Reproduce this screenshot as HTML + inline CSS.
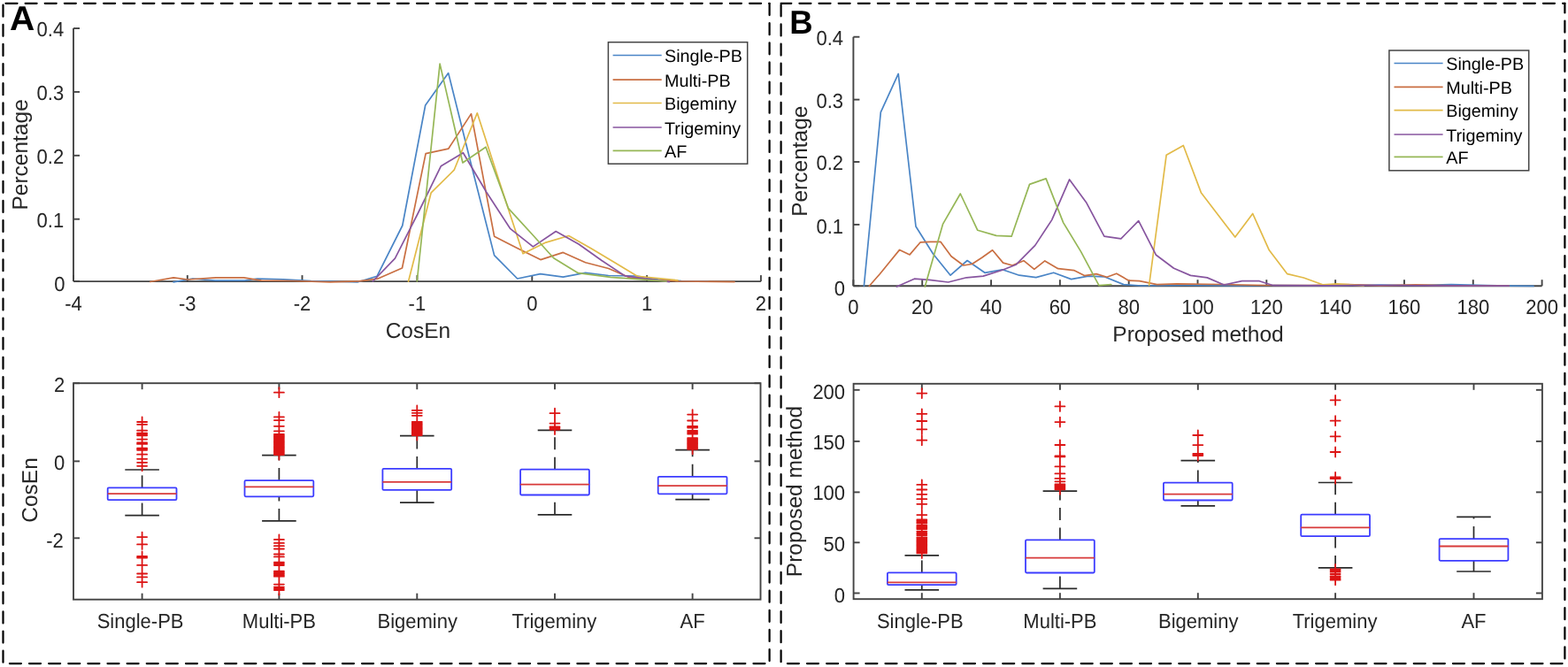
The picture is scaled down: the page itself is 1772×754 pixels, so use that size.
<!DOCTYPE html>
<html><head><meta charset="utf-8"><title>Figure</title>
<style>
html,body{margin:0;padding:0;background:#fff;}
svg{display:block;font-family:"Liberation Sans", Arial, Helvetica, sans-serif;text-rendering:geometricPrecision;}
</style></head>
<body>
<svg width="1772" height="754" viewBox="0 0 1772 754">
<rect width="1772" height="754" fill="#fff"/>
<line x1="3.5" y1="3.8" x2="869.6" y2="3.8" stroke="#000" stroke-width="2.2" stroke-dasharray="13.0 9.12" stroke-dashoffset="19.12" stroke-linecap="round"/>
<line x1="869.6" y1="3.8" x2="869.6" y2="750.1" stroke="#000" stroke-width="2.2" stroke-dasharray="13.0 9.12" stroke-dashoffset="21.82" stroke-linecap="round"/>
<line x1="3.5" y1="750.1" x2="869.6" y2="750.1" stroke="#000" stroke-width="2.2" stroke-dasharray="13.0 9.12" stroke-dashoffset="14.72" stroke-linecap="round"/>
<line x1="3.5" y1="3.8" x2="3.5" y2="750.1" stroke="#000" stroke-width="2.2" stroke-dasharray="13.0 9.12" stroke-dashoffset="20.22" stroke-linecap="round"/>
<line x1="882.6" y1="3.8" x2="1768.4" y2="3.8" stroke="#000" stroke-width="2.2" stroke-dasharray="13.0 9.12" stroke-dashoffset="1.30" stroke-linecap="round"/>
<line x1="1768.4" y1="3.8" x2="1768.4" y2="750.1" stroke="#000" stroke-width="2.2" stroke-dasharray="13.0 9.12" stroke-dashoffset="2.32" stroke-linecap="round"/>
<line x1="882.6" y1="750.1" x2="1768.4" y2="750.1" stroke="#000" stroke-width="2.2" stroke-dasharray="13.0 9.12" stroke-dashoffset="14.82" stroke-linecap="round"/>
<line x1="882.6" y1="3.8" x2="882.6" y2="750.1" stroke="#000" stroke-width="2.2" stroke-dasharray="13.0 9.12" stroke-dashoffset="20.62" stroke-linecap="round"/>
<text transform="translate(11.1,33.8) scale(1.04,1.03)" font-size="37.6" font-weight="bold" fill="#000">A</text>
<text transform="translate(892.3,37.5) scale(1.0,1.03)" font-size="36.5" font-weight="bold" fill="#000">B</text>
<line x1="83.00" y1="32.05" x2="83.00" y2="318.10" stroke="#444444" stroke-width="1.9" />
<line x1="83.00" y1="318.10" x2="859.90" y2="318.10" stroke="#444444" stroke-width="1.9" />
<line x1="83.00" y1="32.05" x2="90.00" y2="32.05" stroke="#444444" stroke-width="1.9" />
<text transform="translate(72.20,41.35) scale(1,1.055)" font-size="22.0" text-anchor="end" fill="#262626" >0.4</text>
<line x1="83.00" y1="103.90" x2="90.00" y2="103.90" stroke="#444444" stroke-width="1.9" />
<text transform="translate(72.20,113.00) scale(1,1.055)" font-size="22.0" text-anchor="end" fill="#262626" >0.3</text>
<line x1="83.00" y1="175.80" x2="90.00" y2="175.80" stroke="#444444" stroke-width="1.9" />
<text transform="translate(72.20,184.85) scale(1,1.055)" font-size="22.0" text-anchor="end" fill="#262626" >0.2</text>
<line x1="83.00" y1="247.70" x2="90.00" y2="247.70" stroke="#444444" stroke-width="1.9" />
<text transform="translate(72.20,256.95) scale(1,1.055)" font-size="22.0" text-anchor="end" fill="#262626" >0.1</text>
<line x1="83.00" y1="318.10" x2="90.00" y2="318.10" stroke="#444444" stroke-width="1.9" />
<text transform="translate(73.40,328.65) scale(1,1.055)" font-size="22.0" text-anchor="end" fill="#262626" >0</text>
<line x1="83.00" y1="318.10" x2="83.00" y2="311.10" stroke="#444444" stroke-width="1.9" />
<text transform="translate(83.00,350.80) scale(1,1.055)" font-size="22.0" text-anchor="middle" fill="#262626" >-4</text>
<line x1="211.80" y1="318.10" x2="211.80" y2="311.10" stroke="#444444" stroke-width="1.9" />
<text transform="translate(211.80,350.80) scale(1,1.055)" font-size="22.0" text-anchor="middle" fill="#262626" >-3</text>
<line x1="341.50" y1="318.10" x2="341.50" y2="311.10" stroke="#444444" stroke-width="1.9" />
<text transform="translate(341.50,350.80) scale(1,1.055)" font-size="22.0" text-anchor="middle" fill="#262626" >-2</text>
<line x1="471.40" y1="318.10" x2="471.40" y2="311.10" stroke="#444444" stroke-width="1.9" />
<text transform="translate(471.40,350.80) scale(1,1.055)" font-size="22.0" text-anchor="middle" fill="#262626" >-1</text>
<line x1="601.30" y1="318.10" x2="601.30" y2="311.10" stroke="#444444" stroke-width="1.9" />
<text transform="translate(601.30,350.80) scale(1,1.055)" font-size="22.0" text-anchor="middle" fill="#262626" >0</text>
<line x1="731.10" y1="318.10" x2="731.10" y2="311.10" stroke="#444444" stroke-width="1.9" />
<text transform="translate(731.10,350.80) scale(1,1.055)" font-size="22.0" text-anchor="middle" fill="#262626" >1</text>
<line x1="859.90" y1="318.10" x2="859.90" y2="311.10" stroke="#444444" stroke-width="1.9" />
<text transform="translate(859.90,350.80) scale(1,1.055)" font-size="22.0" text-anchor="middle" fill="#262626" >2</text>
<text x="472.45" y="381.90" font-size="24.5" text-anchor="middle" fill="#262626" >CosEn</text>
<text transform="translate(30.8,174.9) rotate(-90)" font-size="24.5" text-anchor="middle" fill="#262626">Percentage</text>
<line x1="964.40" y1="41.70" x2="964.40" y2="323.20" stroke="#444444" stroke-width="1.9" />
<line x1="964.40" y1="323.20" x2="1742.60" y2="323.20" stroke="#444444" stroke-width="1.9" />
<line x1="964.40" y1="41.70" x2="971.40" y2="41.70" stroke="#444444" stroke-width="1.9" />
<text transform="translate(953.10,51.45) scale(1,1.055)" font-size="22.0" text-anchor="end" fill="#262626" >0.4</text>
<line x1="964.40" y1="112.60" x2="971.40" y2="112.60" stroke="#444444" stroke-width="1.9" />
<text transform="translate(953.10,122.10) scale(1,1.055)" font-size="22.0" text-anchor="end" fill="#262626" >0.3</text>
<line x1="964.40" y1="183.00" x2="971.40" y2="183.00" stroke="#444444" stroke-width="1.9" />
<text transform="translate(953.10,192.45) scale(1,1.055)" font-size="22.0" text-anchor="end" fill="#262626" >0.2</text>
<line x1="964.40" y1="253.90" x2="971.40" y2="253.90" stroke="#444444" stroke-width="1.9" />
<text transform="translate(953.10,263.75) scale(1,1.055)" font-size="22.0" text-anchor="end" fill="#262626" >0.1</text>
<line x1="964.40" y1="323.20" x2="971.40" y2="323.20" stroke="#444444" stroke-width="1.9" />
<text transform="translate(955.10,334.05) scale(1,1.055)" font-size="22.0" text-anchor="end" fill="#262626" >0</text>
<line x1="964.40" y1="323.20" x2="964.40" y2="316.20" stroke="#444444" stroke-width="1.9" />
<text transform="translate(964.40,355.35) scale(1,1.055)" font-size="22.0" text-anchor="middle" fill="#262626" >0</text>
<line x1="1042.22" y1="323.20" x2="1042.22" y2="316.20" stroke="#444444" stroke-width="1.9" />
<text transform="translate(1042.22,355.35) scale(1,1.055)" font-size="22.0" text-anchor="middle" fill="#262626" >20</text>
<line x1="1120.04" y1="323.20" x2="1120.04" y2="316.20" stroke="#444444" stroke-width="1.9" />
<text transform="translate(1120.04,355.35) scale(1,1.055)" font-size="22.0" text-anchor="middle" fill="#262626" >40</text>
<line x1="1197.86" y1="323.20" x2="1197.86" y2="316.20" stroke="#444444" stroke-width="1.9" />
<text transform="translate(1197.86,355.35) scale(1,1.055)" font-size="22.0" text-anchor="middle" fill="#262626" >60</text>
<line x1="1275.68" y1="323.20" x2="1275.68" y2="316.20" stroke="#444444" stroke-width="1.9" />
<text transform="translate(1275.68,355.35) scale(1,1.055)" font-size="22.0" text-anchor="middle" fill="#262626" >80</text>
<line x1="1353.50" y1="323.20" x2="1353.50" y2="316.20" stroke="#444444" stroke-width="1.9" />
<text transform="translate(1353.50,355.35) scale(1,1.055)" font-size="22.0" text-anchor="middle" fill="#262626" >100</text>
<line x1="1431.32" y1="323.20" x2="1431.32" y2="316.20" stroke="#444444" stroke-width="1.9" />
<text transform="translate(1431.32,355.35) scale(1,1.055)" font-size="22.0" text-anchor="middle" fill="#262626" >120</text>
<line x1="1509.14" y1="323.20" x2="1509.14" y2="316.20" stroke="#444444" stroke-width="1.9" />
<text transform="translate(1509.14,355.35) scale(1,1.055)" font-size="22.0" text-anchor="middle" fill="#262626" >140</text>
<line x1="1586.96" y1="323.20" x2="1586.96" y2="316.20" stroke="#444444" stroke-width="1.9" />
<text transform="translate(1586.96,355.35) scale(1,1.055)" font-size="22.0" text-anchor="middle" fill="#262626" >160</text>
<line x1="1664.78" y1="323.20" x2="1664.78" y2="316.20" stroke="#444444" stroke-width="1.9" />
<text transform="translate(1664.78,355.35) scale(1,1.055)" font-size="22.0" text-anchor="middle" fill="#262626" >180</text>
<line x1="1742.60" y1="323.20" x2="1742.60" y2="316.20" stroke="#444444" stroke-width="1.9" />
<text transform="translate(1742.60,355.35) scale(1,1.055)" font-size="22.0" text-anchor="middle" fill="#262626" >200</text>
<text x="1354.00" y="386.40" font-size="24.5" text-anchor="middle" fill="#262626" >Proposed method</text>
<text transform="translate(912.4,182.2) rotate(-90)" font-size="24.5" text-anchor="middle" fill="#262626">Percentage</text>
<polyline points="196.1,318.9 217.8,315.0 243.1,317.1 276.5,317.1 290.9,315.0 320.0,315.8 351.5,317.5 403.9,319.0 426.0,312.3 454.8,255.0 480.7,119.0 506.7,82.6 532.5,186.0 558.6,288.6 584.7,315.0 610.6,309.6 636.4,313.1 661.6,308.4 687.7,311.5 719.8,312.0 744.0,316.0 770.0,317.5 800.0,318.0" fill="none" stroke="#4A85C6" stroke-width="1.7" stroke-linejoin="round" stroke-linecap="round"/>
<polyline points="169.9,318.5 196.1,313.8 212.4,316.0 244.0,313.8 275.6,313.8 295.4,317.1 331.6,317.5 373.2,318.8 405.7,317.9 426.5,315.2 454.5,303.0 481.1,173.6 506.7,168.2 532.5,128.6 558.6,267.2 584.5,280.5 610.9,293.6 636.4,285.4 661.6,296.8 687.7,303.5 712.6,314.2 740.0,316.5 766.7,317.8 830.0,318.6" fill="none" stroke="#C96F42" stroke-width="1.7" stroke-linejoin="round" stroke-linecap="round"/>
<polyline points="461.5,318.2 487.2,217.8 513.2,192.2 539.3,127.8 564.9,207.0 591.0,286.7 616.9,274.1 642.7,266.5 668.3,281.0 694.2,296.5 720.7,312.4 765.8,316.9" fill="none" stroke="#E2BA48" stroke-width="1.7" stroke-linejoin="round" stroke-linecap="round"/>
<polyline points="421.3,318.0 446.4,292.1 472.4,241.0 498.4,187.7 523.4,172.7 549.6,217.0 576.5,258.3 602.4,278.9 628.2,261.5 654.0,276.0 680.0,294.5 706.3,311.9 756.4,318.7" fill="none" stroke="#87559F" stroke-width="1.7" stroke-linejoin="round" stroke-linecap="round"/>
<polyline points="471.3,318.0 497.1,72.1 522.9,184.0 549.0,166.2 574.6,235.7 600.6,264.0 625.7,291.7 653.4,308.7 690.0,313.3 753.2,318.0" fill="none" stroke="#96B757" stroke-width="1.7" stroke-linejoin="round" stroke-linecap="round"/>
<polyline points="976.4,323.3 995.3,126.9 1015.2,83.4 1035.0,256.0 1054.5,287.0 1074.1,311.2 1093.1,294.5 1112.9,308.3 1132.8,304.8 1151.9,311.2 1170.8,313.6 1190.7,308.2 1210.6,315.6 1230.0,312.2 1247.9,312.8 1269.8,321.6 1289.6,323.0 1340.0,322.5 1400.0,323.0 1440.0,322.5 1500.0,322.8 1560.0,322.0 1600.0,322.5 1640.0,321.5 1680.0,322.5 1705.0,323.2 1733.0,323.4" fill="none" stroke="#4A85C6" stroke-width="1.7" stroke-linejoin="round" stroke-linecap="round"/>
<polyline points="982.4,323.3 994.5,309.5 1005.5,296.0 1016.6,282.4 1028.1,287.9 1040.2,273.8 1051.5,273.3 1062.9,273.3 1075.0,289.7 1088.8,300.0 1098.5,298.5 1110.0,291.0 1121.6,282.8 1133.6,297.1 1144.0,300.0 1156.9,294.7 1168.8,304.3 1180.8,294.9 1195.7,303.7 1213.6,305.6 1225.5,311.6 1238.9,309.6 1250.9,313.2 1261.8,309.2 1275.7,317.2 1287.7,317.6 1307.5,321.6 1330.0,320.8 1380.0,321.5 1430.0,322.5 1480.0,322.5 1520.0,321.5 1560.0,322.8 1600.0,321.8 1640.0,322.8 1705.0,323.2" fill="none" stroke="#C96F42" stroke-width="1.7" stroke-linejoin="round" stroke-linecap="round"/>
<polyline points="1298.6,322.5 1318.1,175.3 1337.3,164.5 1357.5,218.1 1376.6,243.0 1395.8,268.1 1415.7,241.5 1434.3,282.8 1454.8,309.7 1473.3,314.0 1494.7,321.8 1511.4,320.9 1541.1,323.0" fill="none" stroke="#E2BA48" stroke-width="1.7" stroke-linejoin="round" stroke-linecap="round"/>
<polyline points="1013.4,324.0 1033.3,315.2 1050.0,316.4 1071.6,319.0 1092.2,313.8 1111.2,312.1 1132.8,305.2 1148.0,299.3 1169.8,277.4 1188.7,248.6 1208.6,202.9 1227.5,228.7 1247.9,267.1 1266.8,269.9 1286.7,249.6 1306.5,288.3 1326.5,303.3 1345.4,311.4 1364.3,313.9 1383.2,322.0 1403.7,317.7 1423.2,317.7 1439.0,322.7 1500.0,322.8 1560.0,322.5 1620.0,322.8 1705.0,323.2" fill="none" stroke="#87559F" stroke-width="1.7" stroke-linejoin="round" stroke-linecap="round"/>
<polyline points="1045.3,324.0 1065.5,253.4 1085.3,219.0 1104.8,260.3 1125.9,266.4 1143.1,267.2 1163.5,208.4 1182.1,201.9 1201.6,251.6 1221.5,284.4 1241.9,322.7 1255.8,321.5" fill="none" stroke="#96B757" stroke-width="1.7" stroke-linejoin="round" stroke-linecap="round"/>
<rect x="687.4" y="47.7" width="157.30000000000007" height="137.5" fill="#fff" stroke="#444444" stroke-width="1.5"/>
<line x1="692.60" y1="62.50" x2="747.70" y2="62.50" stroke="#4A85C6" stroke-width="1.7" />
<text x="751.00" y="70.10" font-size="19.8" text-anchor="start" fill="#000" >Single-PB</text>
<line x1="692.60" y1="90.20" x2="747.70" y2="90.20" stroke="#C96F42" stroke-width="1.7" />
<text x="751.00" y="97.80" font-size="19.8" text-anchor="start" fill="#000" >Multi-PB</text>
<line x1="692.60" y1="116.50" x2="747.70" y2="116.50" stroke="#E2BA48" stroke-width="1.7" />
<text x="751.00" y="124.10" font-size="19.8" text-anchor="start" fill="#000" >Bigeminy</text>
<line x1="692.60" y1="144.00" x2="747.70" y2="144.00" stroke="#87559F" stroke-width="1.7" />
<text x="751.00" y="151.60" font-size="19.8" text-anchor="start" fill="#000" >Trigeminy</text>
<line x1="692.60" y1="170.40" x2="747.70" y2="170.40" stroke="#96B757" stroke-width="1.7" />
<text x="751.00" y="178.00" font-size="19.8" text-anchor="start" fill="#000" >AF</text>
<rect x="1569.9" y="57.0" width="157.79999999999995" height="135.8" fill="#fff" stroke="#444444" stroke-width="1.5"/>
<line x1="1575.50" y1="71.50" x2="1630.60" y2="71.50" stroke="#4A85C6" stroke-width="1.7" />
<text x="1634.20" y="79.10" font-size="19.8" text-anchor="start" fill="#000" >Single-PB</text>
<line x1="1575.50" y1="98.30" x2="1630.60" y2="98.30" stroke="#C96F42" stroke-width="1.7" />
<text x="1634.20" y="105.90" font-size="19.8" text-anchor="start" fill="#000" >Multi-PB</text>
<line x1="1575.50" y1="124.60" x2="1630.60" y2="124.60" stroke="#E2BA48" stroke-width="1.7" />
<text x="1634.20" y="132.20" font-size="19.8" text-anchor="start" fill="#000" >Bigeminy</text>
<line x1="1575.50" y1="152.00" x2="1630.60" y2="152.00" stroke="#87559F" stroke-width="1.7" />
<text x="1634.20" y="159.60" font-size="19.8" text-anchor="start" fill="#000" >Trigeminy</text>
<line x1="1575.50" y1="177.30" x2="1630.60" y2="177.30" stroke="#96B757" stroke-width="1.7" />
<text x="1634.20" y="184.90" font-size="19.8" text-anchor="start" fill="#000" >AF</text>
<rect x="83.0" y="433.2" width="776.5" height="244.50000000000006" fill="none" stroke="#444444" stroke-width="1.9"/>
<line x1="83.00" y1="433.20" x2="90.00" y2="433.20" stroke="#444444" stroke-width="1.9" />
<line x1="859.50" y1="433.20" x2="852.50" y2="433.20" stroke="#444444" stroke-width="1.9" />
<text transform="translate(73.20,443.25) scale(1,1.055)" font-size="22.0" text-anchor="end" fill="#262626" >2</text>
<line x1="83.00" y1="521.40" x2="90.00" y2="521.40" stroke="#444444" stroke-width="1.9" />
<line x1="859.50" y1="521.40" x2="852.50" y2="521.40" stroke="#444444" stroke-width="1.9" />
<text transform="translate(73.20,530.55) scale(1,1.055)" font-size="22.0" text-anchor="end" fill="#262626" >0</text>
<line x1="83.00" y1="608.30" x2="90.00" y2="608.30" stroke="#444444" stroke-width="1.9" />
<line x1="859.50" y1="608.30" x2="852.50" y2="608.30" stroke="#444444" stroke-width="1.9" />
<text transform="translate(71.80,618.75) scale(1,1.055)" font-size="22.0" text-anchor="end" fill="#262626" >-2</text>
<line x1="160.60" y1="677.70" x2="160.60" y2="670.70" stroke="#444444" stroke-width="1.9" />
<line x1="160.60" y1="433.20" x2="160.60" y2="440.20" stroke="#444444" stroke-width="1.9" />
<text transform="translate(158.60,710.10) scale(1,1.055)" font-size="22.0" text-anchor="middle" fill="#262626" >Single-PB</text>
<line x1="315.40" y1="677.70" x2="315.40" y2="670.70" stroke="#444444" stroke-width="1.9" />
<line x1="315.40" y1="433.20" x2="315.40" y2="440.20" stroke="#444444" stroke-width="1.9" />
<text transform="translate(315.40,710.10) scale(1,1.055)" font-size="22.0" text-anchor="middle" fill="#262626" >Multi-PB</text>
<line x1="471.30" y1="677.70" x2="471.30" y2="670.70" stroke="#444444" stroke-width="1.9" />
<line x1="471.30" y1="433.20" x2="471.30" y2="440.20" stroke="#444444" stroke-width="1.9" />
<text transform="translate(471.70,710.10) scale(1,1.055)" font-size="22.0" text-anchor="middle" fill="#262626" >Bigeminy</text>
<line x1="627.00" y1="677.70" x2="627.00" y2="670.70" stroke="#444444" stroke-width="1.9" />
<line x1="627.00" y1="433.20" x2="627.00" y2="440.20" stroke="#444444" stroke-width="1.9" />
<text transform="translate(626.40,710.10) scale(1,1.055)" font-size="22.0" text-anchor="middle" fill="#262626" >Trigeminy</text>
<line x1="782.60" y1="677.70" x2="782.60" y2="670.70" stroke="#444444" stroke-width="1.9" />
<line x1="782.60" y1="433.20" x2="782.60" y2="440.20" stroke="#444444" stroke-width="1.9" />
<text transform="translate(782.60,710.10) scale(1,1.055)" font-size="22.0" text-anchor="middle" fill="#262626" >AF</text>
<text transform="translate(42.3,554.0) rotate(-90)" font-size="24.5" text-anchor="middle" fill="#262626">CosEn</text>
<line x1="160.6" y1="551.4" x2="160.6" y2="531.0" stroke="#2a2a2a" stroke-width="1.7" stroke-dasharray="14 8.5"/>
<line x1="160.6" y1="582.6" x2="160.6" y2="565.2" stroke="#2a2a2a" stroke-width="1.7" stroke-dasharray="14 8.5"/>
<line x1="141.30" y1="531.00" x2="179.90" y2="531.00" stroke="#2a2a2a" stroke-width="1.7" />
<line x1="141.30" y1="582.60" x2="179.90" y2="582.60" stroke="#2a2a2a" stroke-width="1.7" />
<rect x="121.69999999999999" y="551.4" width="77.8" height="13.800000000000068" rx="1.2" fill="none" stroke="#3c3cff" stroke-width="1.8"/>
<line x1="121.70" y1="558.20" x2="199.50" y2="558.20" stroke="#d83a3a" stroke-width="1.8" />
<path d="M155.1,477.0H166.1M160.6,471.5V482.5M155.1,479.8H166.1M160.6,474.3V485.3M155.1,486.7H166.1M160.6,481.2V492.2M155.1,489.7H166.1M160.6,484.2V495.2M155.1,491.0H166.1M160.6,485.5V496.5M155.1,492.3H166.1M160.6,486.8V497.8M155.1,496.6H166.1M160.6,491.1V502.1M155.1,500.3H166.1M160.6,494.8V505.8M155.1,501.1H166.1M160.6,495.6V506.6M155.1,501.9H166.1M160.6,496.4V507.4M155.1,506.6H166.1M160.6,501.1V512.1M155.1,507.7H166.1M160.6,502.2V513.2M155.1,508.8H166.1M160.6,503.3V514.3M155.1,513.7H166.1M160.6,508.2V519.2M155.1,518.8H166.1M160.6,513.3V524.3M155.1,522.8H166.1M160.6,517.3V528.3M155.1,526.8H166.1M160.6,521.3V532.3M155.1,607.1H166.1M160.6,601.6V612.6M155.1,615.4H166.1M160.6,609.9V620.9M155.1,629.0H166.1M160.6,623.5V634.5M155.1,630.5H166.1M160.6,625.0V636.0M155.1,638.9H166.1M160.6,633.4V644.4M155.1,648.5H166.1M160.6,643.0V654.0M155.1,652.4H166.1M160.6,646.9V657.9M155.1,658.2H166.1M160.6,652.7V663.7" stroke="#dc1414" stroke-width="1.8" stroke-linecap="round" fill="none"/>
<line x1="315.4" y1="543.1" x2="315.4" y2="514.6" stroke="#2a2a2a" stroke-width="1.7" stroke-dasharray="14 8.5"/>
<line x1="315.4" y1="588.9" x2="315.4" y2="561.3" stroke="#2a2a2a" stroke-width="1.7" stroke-dasharray="14 8.5"/>
<line x1="296.10" y1="514.60" x2="334.70" y2="514.60" stroke="#2a2a2a" stroke-width="1.7" />
<line x1="296.10" y1="588.90" x2="334.70" y2="588.90" stroke="#2a2a2a" stroke-width="1.7" />
<rect x="276.5" y="543.1" width="77.8" height="18.199999999999932" rx="1.2" fill="none" stroke="#3c3cff" stroke-width="1.8"/>
<line x1="276.50" y1="550.40" x2="354.30" y2="550.40" stroke="#d83a3a" stroke-width="1.8" />
<path d="M309.9,443.7H320.9M315.4,438.2V449.2M309.9,471.4H320.9M315.4,465.9V476.9M309.9,475.1H320.9M315.4,469.6V480.6M309.9,481.8H320.9M315.4,476.3V487.3M309.9,487.3H320.9M315.4,481.8V492.8M309.9,491.0H320.9M315.4,485.5V496.5M309.9,492.2H320.9M315.4,486.7V497.7M309.9,493.4H320.9M315.4,487.9V498.9M309.9,494.6H320.9M315.4,489.1V500.1M309.9,495.8H320.9M315.4,490.3V501.3M309.9,497.1H320.9M315.4,491.6V502.6M309.9,498.3H320.9M315.4,492.8V503.8M309.9,499.5H320.9M315.4,494.0V505.0M309.9,500.7H320.9M315.4,495.2V506.2M309.9,501.9H320.9M315.4,496.4V507.4M309.9,503.1H320.9M315.4,497.6V508.6M309.9,504.3H320.9M315.4,498.8V509.8M309.9,505.5H320.9M315.4,500.0V511.0M309.9,506.7H320.9M315.4,501.2V512.2M309.9,507.9H320.9M315.4,502.4V513.4M309.9,509.2H320.9M315.4,503.7V514.7M309.9,510.4H320.9M315.4,504.9V515.9M309.9,511.6H320.9M315.4,506.1V517.1M309.9,512.8H320.9M315.4,507.3V518.3M309.9,514.0H320.9M315.4,508.5V519.5M309.9,609.9H320.9M315.4,604.4V615.4M309.9,613.9H320.9M315.4,608.4V619.4M309.9,617.2H320.9M315.4,611.7V622.7M309.9,620.5H320.9M315.4,615.0V626.0M309.9,626.5H320.9M315.4,621.0V632.0M309.9,629.4H320.9M315.4,623.9V634.9M309.9,635.7H320.9M315.4,630.2V641.2M309.9,637.3H320.9M315.4,631.8V642.8M309.9,639.0H320.9M315.4,633.5V644.5M309.9,645.7H320.9M315.4,640.2V651.2M309.9,647.2H320.9M315.4,641.7V652.7M309.9,648.7H320.9M315.4,643.2V654.2M309.9,650.2H320.9M315.4,644.7V655.7M309.9,651.7H320.9M315.4,646.2V657.2M309.9,660.6H320.9M315.4,655.1V666.1M309.9,663.6H320.9M315.4,658.1V669.1M309.9,665.3H320.9M315.4,659.8V670.8M309.9,667.0H320.9M315.4,661.5V672.5" stroke="#dc1414" stroke-width="1.8" stroke-linecap="round" fill="none"/>
<line x1="471.3" y1="529.9" x2="471.3" y2="492.7" stroke="#2a2a2a" stroke-width="1.7" stroke-dasharray="14 8.5"/>
<line x1="471.3" y1="568.2" x2="471.3" y2="553.9" stroke="#2a2a2a" stroke-width="1.7" stroke-dasharray="14 8.5"/>
<line x1="452.00" y1="492.70" x2="490.60" y2="492.70" stroke="#2a2a2a" stroke-width="1.7" />
<line x1="452.00" y1="568.20" x2="490.60" y2="568.20" stroke="#2a2a2a" stroke-width="1.7" />
<rect x="432.40000000000003" y="529.9" width="77.8" height="24.0" rx="1.2" fill="none" stroke="#3c3cff" stroke-width="1.8"/>
<line x1="432.40" y1="544.80" x2="510.20" y2="544.80" stroke="#d83a3a" stroke-width="1.8" />
<path d="M465.8,463.9H476.8M471.3,458.4V469.4M465.8,466.8H476.8M471.3,461.3V472.3M465.8,469.8H476.8M471.3,464.3V475.3M465.8,476.8H476.8M471.3,471.3V482.3M465.8,478.1H476.8M471.3,472.6V483.6M465.8,479.4H476.8M471.3,473.9V484.9M465.8,480.6H476.8M471.3,475.1V486.1M465.8,481.9H476.8M471.3,476.4V487.4M465.8,483.2H476.8M471.3,477.7V488.7M465.8,484.5H476.8M471.3,479.0V490.0M465.8,485.7H476.8M471.3,480.2V491.2M465.8,487.0H476.8M471.3,481.5V492.5M465.8,488.3H476.8M471.3,482.8V493.8M465.8,489.6H476.8M471.3,484.1V495.1M465.8,490.8H476.8M471.3,485.3V496.3M465.8,492.1H476.8M471.3,486.6V497.6" stroke="#dc1414" stroke-width="1.8" stroke-linecap="round" fill="none"/>
<line x1="627.0" y1="530.7" x2="627.0" y2="486.3" stroke="#2a2a2a" stroke-width="1.7" stroke-dasharray="14 8.5"/>
<line x1="627.0" y1="581.8" x2="627.0" y2="559.5" stroke="#2a2a2a" stroke-width="1.7" stroke-dasharray="14 8.5"/>
<line x1="607.70" y1="486.30" x2="646.30" y2="486.30" stroke="#2a2a2a" stroke-width="1.7" />
<line x1="607.70" y1="581.80" x2="646.30" y2="581.80" stroke="#2a2a2a" stroke-width="1.7" />
<rect x="588.1" y="530.7" width="77.8" height="28.799999999999955" rx="1.2" fill="none" stroke="#3c3cff" stroke-width="1.8"/>
<line x1="588.10" y1="547.60" x2="665.90" y2="547.60" stroke="#d83a3a" stroke-width="1.8" />
<path d="M621.5,467.2H632.5M627.0,461.7V472.7M621.5,478.6H632.5M627.0,473.1V484.1M621.5,482.5H632.5M627.0,477.0V488.0M621.5,484.0H632.5M627.0,478.5V489.5M621.5,485.6H632.5M627.0,480.1V491.1" stroke="#dc1414" stroke-width="1.8" stroke-linecap="round" fill="none"/>
<line x1="782.6" y1="538.8" x2="782.6" y2="508.6" stroke="#2a2a2a" stroke-width="1.7" stroke-dasharray="14 8.5"/>
<line x1="782.6" y1="564.7" x2="782.6" y2="558.3" stroke="#2a2a2a" stroke-width="1.7" stroke-dasharray="14 8.5"/>
<line x1="763.30" y1="508.60" x2="801.90" y2="508.60" stroke="#2a2a2a" stroke-width="1.7" />
<line x1="763.30" y1="564.70" x2="801.90" y2="564.70" stroke="#2a2a2a" stroke-width="1.7" />
<rect x="743.7" y="538.8" width="77.8" height="19.5" rx="1.2" fill="none" stroke="#3c3cff" stroke-width="1.8"/>
<line x1="743.70" y1="549.10" x2="821.50" y2="549.10" stroke="#d83a3a" stroke-width="1.8" />
<path d="M777.1,468.6H788.1M782.6,463.1V474.1M777.1,475.5H788.1M782.6,470.0V481.0M777.1,481.9H788.1M782.6,476.4V487.4M777.1,482.8H788.1M782.6,477.3V488.3M777.1,483.6H788.1M782.6,478.1V489.1M777.1,487.0H788.1M782.6,481.5V492.5M777.1,488.7H788.1M782.6,483.2V494.2M777.1,490.5H788.1M782.6,485.0V496.0M777.1,495.2H788.1M782.6,489.7V500.7M777.1,496.5H788.1M782.6,491.0V502.0M777.1,497.7H788.1M782.6,492.2V503.2M777.1,499.0H788.1M782.6,493.5V504.5M777.1,500.2H788.1M782.6,494.7V505.7M777.1,501.5H788.1M782.6,496.0V507.0M777.1,502.8H788.1M782.6,497.3V508.3M777.1,504.0H788.1M782.6,498.5V509.5M777.1,505.3H788.1M782.6,499.8V510.8M777.1,506.5H788.1M782.6,501.0V512.0M777.1,507.8H788.1M782.6,502.3V513.3" stroke="#dc1414" stroke-width="1.8" stroke-linecap="round" fill="none"/>
<rect x="964.6" y="433.8" width="778.3000000000001" height="243.40000000000003" fill="none" stroke="#444444" stroke-width="1.9"/>
<line x1="964.60" y1="440.80" x2="971.60" y2="440.80" stroke="#444444" stroke-width="1.9" />
<line x1="1742.90" y1="440.80" x2="1735.90" y2="440.80" stroke="#444444" stroke-width="1.9" />
<text transform="translate(955.10,451.45) scale(1,1.055)" font-size="22.0" text-anchor="end" fill="#262626" >200</text>
<line x1="964.60" y1="498.90" x2="971.60" y2="498.90" stroke="#444444" stroke-width="1.9" />
<line x1="1742.90" y1="498.90" x2="1735.90" y2="498.90" stroke="#444444" stroke-width="1.9" />
<text transform="translate(955.10,508.45) scale(1,1.055)" font-size="22.0" text-anchor="end" fill="#262626" >150</text>
<line x1="964.60" y1="556.40" x2="971.60" y2="556.40" stroke="#444444" stroke-width="1.9" />
<line x1="1742.90" y1="556.40" x2="1735.90" y2="556.40" stroke="#444444" stroke-width="1.9" />
<text transform="translate(955.10,565.35) scale(1,1.055)" font-size="22.0" text-anchor="end" fill="#262626" >100</text>
<line x1="964.60" y1="613.30" x2="971.60" y2="613.30" stroke="#444444" stroke-width="1.9" />
<line x1="1742.90" y1="613.30" x2="1735.90" y2="613.30" stroke="#444444" stroke-width="1.9" />
<text transform="translate(955.10,622.85) scale(1,1.055)" font-size="22.0" text-anchor="end" fill="#262626" >50</text>
<line x1="964.60" y1="670.50" x2="971.60" y2="670.50" stroke="#444444" stroke-width="1.9" />
<line x1="1742.90" y1="670.50" x2="1735.90" y2="670.50" stroke="#444444" stroke-width="1.9" />
<text transform="translate(955.10,681.05) scale(1,1.055)" font-size="22.0" text-anchor="end" fill="#262626" >0</text>
<line x1="1041.80" y1="677.20" x2="1041.80" y2="670.20" stroke="#444444" stroke-width="1.9" />
<line x1="1041.80" y1="433.80" x2="1041.80" y2="440.80" stroke="#444444" stroke-width="1.9" />
<text transform="translate(1039.80,710.10) scale(1,1.055)" font-size="22.0" text-anchor="middle" fill="#262626" >Single-PB</text>
<line x1="1197.90" y1="677.20" x2="1197.90" y2="670.20" stroke="#444444" stroke-width="1.9" />
<line x1="1197.90" y1="433.80" x2="1197.90" y2="440.80" stroke="#444444" stroke-width="1.9" />
<text transform="translate(1197.90,710.10) scale(1,1.055)" font-size="22.0" text-anchor="middle" fill="#262626" >Multi-PB</text>
<line x1="1353.80" y1="677.20" x2="1353.80" y2="670.20" stroke="#444444" stroke-width="1.9" />
<line x1="1353.80" y1="433.80" x2="1353.80" y2="440.80" stroke="#444444" stroke-width="1.9" />
<text transform="translate(1354.20,710.10) scale(1,1.055)" font-size="22.0" text-anchor="middle" fill="#262626" >Bigeminy</text>
<line x1="1509.10" y1="677.20" x2="1509.10" y2="670.20" stroke="#444444" stroke-width="1.9" />
<line x1="1509.10" y1="433.80" x2="1509.10" y2="440.80" stroke="#444444" stroke-width="1.9" />
<text transform="translate(1508.50,710.10) scale(1,1.055)" font-size="22.0" text-anchor="middle" fill="#262626" >Trigeminy</text>
<line x1="1665.50" y1="677.20" x2="1665.50" y2="670.20" stroke="#444444" stroke-width="1.9" />
<line x1="1665.50" y1="433.80" x2="1665.50" y2="440.80" stroke="#444444" stroke-width="1.9" />
<text transform="translate(1665.50,710.10) scale(1,1.055)" font-size="22.0" text-anchor="middle" fill="#262626" >AF</text>
<text transform="translate(905.8,555.5) rotate(-90)" font-size="24.5" text-anchor="middle" fill="#262626">Proposed method</text>
<line x1="1041.8" y1="647.4" x2="1041.8" y2="627.8" stroke="#2a2a2a" stroke-width="1.7" stroke-dasharray="14 8.5"/>
<line x1="1041.8" y1="666.8" x2="1041.8" y2="661.2" stroke="#2a2a2a" stroke-width="1.7" stroke-dasharray="14 8.5"/>
<line x1="1022.50" y1="627.80" x2="1061.10" y2="627.80" stroke="#2a2a2a" stroke-width="1.7" />
<line x1="1022.50" y1="666.80" x2="1061.10" y2="666.80" stroke="#2a2a2a" stroke-width="1.7" />
<rect x="1002.9" y="647.4" width="77.8" height="13.800000000000068" rx="1.2" fill="none" stroke="#3c3cff" stroke-width="1.8"/>
<line x1="1002.90" y1="658.30" x2="1080.70" y2="658.30" stroke="#d83a3a" stroke-width="1.8" />
<path d="M1036.3,444.6H1047.3M1041.8,439.1V450.1M1036.3,467.8H1047.3M1041.8,462.3V473.3M1036.3,476.0H1047.3M1041.8,470.5V481.5M1036.3,485.3H1047.3M1041.8,479.8V490.8M1036.3,497.7H1047.3M1041.8,492.2V503.2M1036.3,547.9H1047.3M1041.8,542.4V553.4M1036.3,553.5H1047.3M1041.8,548.0V559.0M1036.3,558.8H1047.3M1041.8,553.3V564.3M1036.3,564.2H1047.3M1041.8,558.7V569.7M1036.3,569.8H1047.3M1041.8,564.3V575.3M1036.3,582.1H1047.3M1041.8,576.6V587.6M1036.3,587.3H1047.3M1041.8,581.8V592.8M1036.3,588.7H1047.3M1041.8,583.2V594.2M1036.3,590.2H1047.3M1041.8,584.7V595.7M1036.3,591.6H1047.3M1041.8,586.1V597.1M1036.3,594.0H1047.3M1041.8,588.5V599.5M1036.3,595.3H1047.3M1041.8,589.8V600.8M1036.3,596.7H1047.3M1041.8,591.2V602.2M1036.3,598.0H1047.3M1041.8,592.5V603.5M1036.3,600.6H1047.3M1041.8,595.1V606.1M1036.3,602.1H1047.3M1041.8,596.6V607.6M1036.3,603.6H1047.3M1041.8,598.1V609.1M1036.3,605.1H1047.3M1041.8,599.6V610.6M1036.3,607.5H1047.3M1041.8,602.0V613.0M1036.3,608.8H1047.3M1041.8,603.2V614.2M1036.3,610.0H1047.3M1041.8,604.5V615.5M1036.3,611.5H1047.3M1041.8,606.0V617.0M1036.3,612.8H1047.3M1041.8,607.3V618.3M1036.3,614.0H1047.3M1041.8,608.5V619.5M1036.3,615.3H1047.3M1041.8,609.8V620.8M1036.3,616.6H1047.3M1041.8,611.1V622.1M1036.3,617.8H1047.3M1041.8,612.3V623.3M1036.3,619.1H1047.3M1041.8,613.6V624.6M1036.3,620.3H1047.3M1041.8,614.8V625.8M1036.3,621.6H1047.3M1041.8,616.1V627.1M1036.3,622.9H1047.3M1041.8,617.4V628.4M1036.3,624.1H1047.3M1041.8,618.6V629.6M1036.3,625.4H1047.3M1041.8,619.9V630.9" stroke="#dc1414" stroke-width="1.8" stroke-linecap="round" fill="none"/>
<line x1="1197.9" y1="610.4" x2="1197.9" y2="555.2" stroke="#2a2a2a" stroke-width="1.7" stroke-dasharray="14 8.5"/>
<line x1="1197.9" y1="665.4" x2="1197.9" y2="647.5" stroke="#2a2a2a" stroke-width="1.7" stroke-dasharray="14 8.5"/>
<line x1="1178.60" y1="555.20" x2="1217.20" y2="555.20" stroke="#2a2a2a" stroke-width="1.7" />
<line x1="1178.60" y1="665.40" x2="1217.20" y2="665.40" stroke="#2a2a2a" stroke-width="1.7" />
<rect x="1159.0" y="610.4" width="77.8" height="37.10000000000002" rx="1.2" fill="none" stroke="#3c3cff" stroke-width="1.8"/>
<line x1="1159.00" y1="630.60" x2="1236.80" y2="630.60" stroke="#d83a3a" stroke-width="1.8" />
<path d="M1192.4,459.4H1203.4M1197.9,453.9V464.9M1192.4,477.1H1203.4M1197.9,471.6V482.6M1192.4,503.0H1203.4M1197.9,497.5V508.5M1192.4,515.4H1203.4M1197.9,509.9V520.9M1192.4,516.4H1203.4M1197.9,510.9V521.9M1192.4,527.4H1203.4M1197.9,521.9V532.9M1192.4,535.4H1203.4M1197.9,529.9V540.9M1192.4,540.9H1203.4M1197.9,535.4V546.4M1192.4,544.3H1203.4M1197.9,538.8V549.8M1192.4,547.3H1203.4M1197.9,541.8V552.8M1192.4,548.5H1203.4M1197.9,543.0V554.0M1192.4,549.7H1203.4M1197.9,544.2V555.2M1192.4,550.9H1203.4M1197.9,545.4V556.4M1192.4,552.1H1203.4M1197.9,546.6V557.6M1192.4,553.3H1203.4M1197.9,547.8V558.8" stroke="#dc1414" stroke-width="1.8" stroke-linecap="round" fill="none"/>
<line x1="1353.8" y1="545.6" x2="1353.8" y2="520.6" stroke="#2a2a2a" stroke-width="1.7" stroke-dasharray="14 8.5"/>
<line x1="1353.8" y1="571.9" x2="1353.8" y2="565.5" stroke="#2a2a2a" stroke-width="1.7" stroke-dasharray="14 8.5"/>
<line x1="1334.50" y1="520.60" x2="1373.10" y2="520.60" stroke="#2a2a2a" stroke-width="1.7" />
<line x1="1334.50" y1="571.90" x2="1373.10" y2="571.90" stroke="#2a2a2a" stroke-width="1.7" />
<rect x="1314.8999999999999" y="545.6" width="77.8" height="19.899999999999977" rx="1.2" fill="none" stroke="#3c3cff" stroke-width="1.8"/>
<line x1="1314.90" y1="558.70" x2="1392.70" y2="558.70" stroke="#d83a3a" stroke-width="1.8" />
<path d="M1348.3,492.0H1359.3M1353.8,486.5V497.5M1348.3,503.1H1359.3M1353.8,497.6V508.6M1348.3,513.0H1359.3M1353.8,507.5V518.5M1348.3,514.0H1359.3M1353.8,508.5V519.5M1348.3,515.0H1359.3M1353.8,509.5V520.5" stroke="#dc1414" stroke-width="1.8" stroke-linecap="round" fill="none"/>
<line x1="1509.1" y1="581.7" x2="1509.1" y2="545.5" stroke="#2a2a2a" stroke-width="1.7" stroke-dasharray="14 8.5"/>
<line x1="1509.1" y1="641.9" x2="1509.1" y2="606.2" stroke="#2a2a2a" stroke-width="1.7" stroke-dasharray="14 8.5"/>
<line x1="1489.80" y1="545.50" x2="1528.40" y2="545.50" stroke="#2a2a2a" stroke-width="1.7" />
<line x1="1489.80" y1="641.90" x2="1528.40" y2="641.90" stroke="#2a2a2a" stroke-width="1.7" />
<rect x="1470.1999999999998" y="581.7" width="77.8" height="24.5" rx="1.2" fill="none" stroke="#3c3cff" stroke-width="1.8"/>
<line x1="1470.20" y1="596.30" x2="1548.00" y2="596.30" stroke="#d83a3a" stroke-width="1.8" />
<path d="M1503.6,452.4H1514.6M1509.1,446.9V457.9M1503.6,475.7H1514.6M1509.1,470.2V481.2M1503.6,493.4H1514.6M1509.1,487.9V498.9M1503.6,511.0H1514.6M1509.1,505.5V516.5M1503.6,539.5H1514.6M1509.1,534.0V545.0M1503.6,540.3H1514.6M1509.1,534.8V545.8M1503.6,541.2H1514.6M1509.1,535.7V546.7M1503.6,643.5H1514.6M1509.1,638.0V649.0M1503.6,645.0H1514.6M1509.1,639.5V650.5M1503.6,646.7H1514.6M1509.1,641.2V652.2M1503.6,649.0H1514.6M1509.1,643.5V654.5M1503.6,651.4H1514.6M1509.1,645.9V656.9M1503.6,652.8H1514.6M1509.1,647.3V658.3M1503.6,654.3H1514.6M1509.1,648.8V659.8M1503.6,655.7H1514.6M1509.1,650.2V661.2" stroke="#dc1414" stroke-width="1.8" stroke-linecap="round" fill="none"/>
<line x1="1665.5" y1="609.1" x2="1665.5" y2="584.3" stroke="#2a2a2a" stroke-width="1.7" stroke-dasharray="14 8.5"/>
<line x1="1665.5" y1="646.0" x2="1665.5" y2="633.8" stroke="#2a2a2a" stroke-width="1.7" stroke-dasharray="14 8.5"/>
<line x1="1646.20" y1="584.30" x2="1684.80" y2="584.30" stroke="#2a2a2a" stroke-width="1.7" />
<line x1="1646.20" y1="646.00" x2="1684.80" y2="646.00" stroke="#2a2a2a" stroke-width="1.7" />
<rect x="1626.6" y="609.1" width="77.8" height="24.699999999999932" rx="1.2" fill="none" stroke="#3c3cff" stroke-width="1.8"/>
<line x1="1626.60" y1="617.50" x2="1704.40" y2="617.50" stroke="#d83a3a" stroke-width="1.8" />
</svg>
</body></html>
